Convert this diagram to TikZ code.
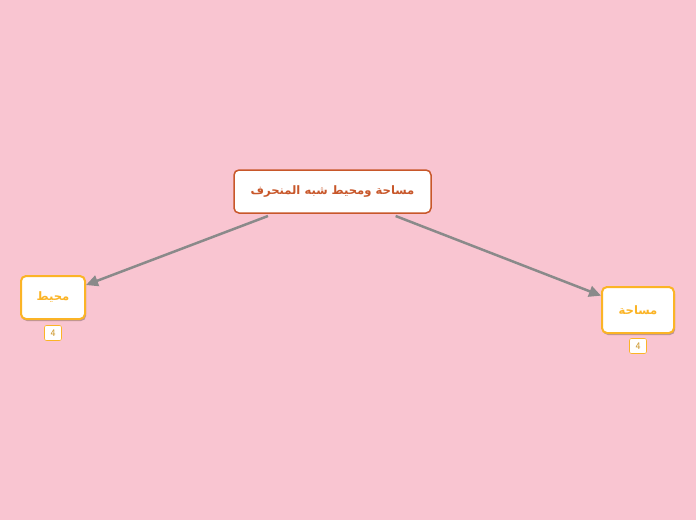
\documentclass[tikz,border=0pt]{standalone}
\usepackage{fontspec}
\usetikzlibrary{shadows,arrows.meta}
\TeXXeTstate=1
\newfontfamily\arabicfont[Script=Arabic,BoldFont={DejaVu Sans Bold}]{DejaVu Sans}
\definecolor{bgpink}{HTML}{F9C5D1}
\definecolor{topicline}{HTML}{C8572A}
\definecolor{subline}{HTML}{FBB426}
\definecolor{arrowgray}{HTML}{8A8A8A}
\tikzset{
  maintopic/.style={draw=topicline, line width=1.5pt, fill=white, rounded corners=5pt,
    minimum width=197pt, minimum height=43pt, text=topicline, font=\arabicfont\bfseries\fontsize{11.6}{14}\selectfont,
    outer sep=3pt},
  subtopic/.style={draw=subline, line width=2pt, fill=white, rounded corners=5pt,
    text=subline, font=\arabicfont\bfseries\fontsize{11.6}{14}\selectfont,
    drop shadow={shadow xshift=1pt, shadow yshift=-2pt, fill=black, opacity=.25}},
  badge/.style={draw=subline, line width=.6pt, fill=white, rounded corners=2pt,
    minimum width=17pt, minimum height=15pt, inner sep=0pt, text=subline!80!black,
    font=\sffamily\fontsize{10}{11}\selectfont},
  link/.style={-{Triangle[length=12pt,width=11pt]}, draw=arrowgray, line width=2.5pt}
}
\begin{document}
\begin{tikzpicture}[x=1pt,y=-1pt]
% background
\useasboundingbox [fill=bgpink] (0,0) rectangle (696,520);
% topics
\node [maintopic] (trap) at (332.5,191.5) {\beginR مساحة ومحيط شبه المنحرف\endR};
\node [subtopic, minimum width=64pt, minimum height=43pt] (perim) at (53,297.5) {\beginR محيط\endR};
\node [subtopic, minimum width=72pt, minimum height=46pt] (area) at (638,310) {\beginR مساحة\endR};
% counters
\node [badge] (perimcount) at (53,333) {4};
\node [badge] (areacount) at (638,346) {4};
% links
\draw [link] (trap) -- (perim);
\draw [link] (trap) -- (area);
\end{tikzpicture}
\end{document}
